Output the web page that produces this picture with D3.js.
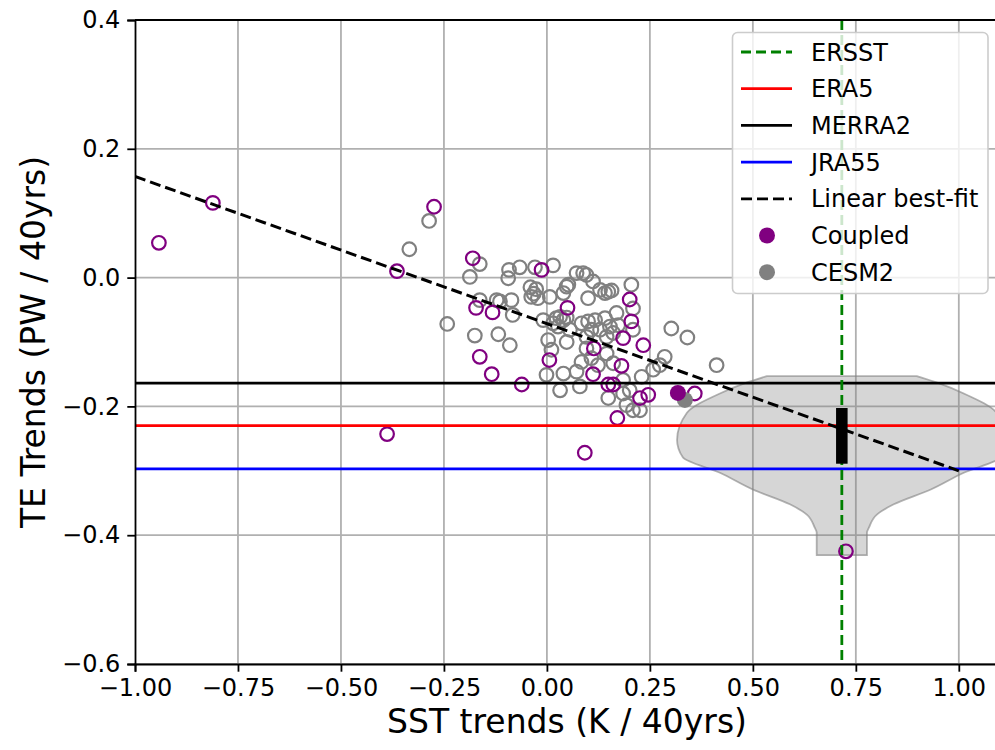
<!DOCTYPE html>
<meta charset="utf-8">
<script src="https://cdn.jsdelivr.net/npm/d3@7"></script>
<style>
body { margin: 0; background: #fff; }
svg text { font-family: "DejaVu Sans", sans-serif; fill: #000; }
</style>
<body>
<script>

// ---- data ----
var xTicks = [-1.00, -0.75, -0.50, -0.25, 0.00, 0.25, 0.50, 0.75, 1.00]
var yTicks = [-0.6, -0.4, -0.2, 0.0, 0.2, 0.4]

var ersstSST = 0.716
var era5TE = -0.230
var merra2TE = -0.164
var jra55TE = -0.297

var fitSST = [-1.0, 1.0]
var fitTE = [0.157, -0.300]

var coupledSST = [-0.942, -0.811, -0.364, -0.274, -0.388, 0.092, 0.726, -0.180, -0.013, -0.172,
                  -0.132, 0.050, 0.201, 0.205, 0.185, 0.234, 0.114, -0.163, 0.006, 0.181,
                  -0.134, 0.112, -0.061, 0.149, 0.161, 0.226, 0.246, 0.359, 0.171]
var coupledTE = [0.054, 0.116, 0.010, 0.110, -0.243, -0.272, -0.425, 0.030, 0.012, -0.047,
                 -0.054, -0.047, -0.034, -0.068, -0.094, -0.105, -0.110, -0.123, -0.128, -0.137,
                 -0.150, -0.150, -0.166, -0.166, -0.166, -0.187, -0.182, -0.180, -0.218]
var coupledMean = [0.318, -0.179]

var cesmSST = [-0.286, -0.334, -0.242, -0.163, -0.187, -0.092, -0.066, -0.094, -0.029, 0.015,
               0.048, -0.040, -0.032, -0.022, -0.038, -0.026, 0.007, -0.163, -0.122, -0.086,
               -0.083, -0.175, -0.118, -0.009, 0.015, 0.032, 0.072, 0.088, 0.096, 0.112,
               0.052, 0.129, 0.149, 0.157, 0.141, 0.205, 0.209, 0.100, 0.040, -0.114,
               -0.090, 0.023, 0.040, 0.048, 0.027, 0.056, 0.003, 0.011, 0.048, 0.084,
               0.100, 0.117, 0.108, 0.096, 0.129, 0.145, 0.153, 0.173, 0.161, 0.141,
               0.169, 0.209, 0.096, 0.145, 0.084, 0.108, 0.124, 0.161, -0.001, 0.040,
               0.072, 0.032, 0.080, 0.185, 0.201, 0.185, 0.149, 0.193, 0.209, 0.226,
               0.230, 0.258, 0.286, 0.274, 0.302, 0.341, 0.412]
var cesmTE = [0.088, 0.044, -0.072, 0.021, 0.001, 0.012, 0.016, -0.001, 0.016, 0.019,
              -0.014, -0.015, -0.025, -0.032, -0.030, -0.018, -0.030, -0.035, -0.035, -0.035,
              -0.058, -0.090, -0.088, -0.066, -0.071, -0.061, 0.007, 0.007, 0.004, -0.006,
              -0.011, -0.019, -0.022, -0.020, -0.024, -0.011, -0.048, -0.032, -0.024, -0.037,
              -0.105, -0.063, -0.066, -0.062, -0.076, -0.081, -0.097, -0.112, -0.100, -0.071,
              -0.068, -0.066, -0.081, -0.092, -0.081, -0.092, -0.076, -0.074, -0.086, -0.063,
              -0.055, -0.081, -0.110, -0.118, -0.131, -0.125, -0.136, -0.133, -0.151, -0.149,
              -0.146, -0.175, -0.169, -0.159, -0.175, -0.180, -0.187, -0.198, -0.206, -0.206,
              -0.154, -0.143, -0.123, -0.136, -0.079, -0.093, -0.136]
var cesmMean = [0.335, -0.190]

// violin profile: TE levels and half widths (in SST units), plus the inner box
var violinTE = [-0.153, -0.164, -0.180, -0.210, -0.252, -0.279, -0.303, -0.329, -0.352, -0.368, -0.388, -0.396, -0.431]
var violinHalf = [0.182, 0.235, 0.296, 0.376, 0.400, 0.386, 0.296, 0.216, 0.126, 0.085, 0.066, 0.061, 0.061]
var violinBox = [-0.289, -0.2025]

var legendNames = ["ERSST", "ERA5", "MERRA2", "JRA55", "Linear best-fit", "Coupled", "CESM2"]

// ---- layout ----
var W = 995, H = 750
var mLeft = 135, mTop = 20, mBottom = 664, mRight = 1000

var x = d3.scaleLinear().domain([-1.0, 1.1]).range([mLeft, mRight])
var y = d3.scaleLinear().domain([-0.6, 0.4]).range([mBottom, mTop])

var svg = d3.select("body").append("svg")
            .attr("width", W)
            .attr("height", H)
            .style("display", "block")

svg.append("rect").attr("width", W).attr("height", H).attr("fill", "#fff")

svg.append("defs").append("clipPath").attr("id", "plotclip")
   .append("rect").attr("x", mLeft).attr("y", mTop).attr("width", mRight - mLeft).attr("height", mBottom - mTop)

var plot = svg.append("g").attr("clip-path", "url(#plotclip)")

// grid
plot.selectAll(".gx").data(xTicks).enter().append("line")
    .attr("x1", d => x(d)).attr("x2", d => x(d))
    .attr("y1", mTop).attr("y2", mBottom)
    .style("stroke", "#b0b0b0").style("stroke-width", 1.8)
plot.selectAll(".gy").data(yTicks).enter().append("line")
    .attr("y1", d => y(d)).attr("y2", d => y(d))
    .attr("x1", mLeft).attr("x2", mRight)
    .style("stroke", "#b0b0b0").style("stroke-width", 1.8)

// violin
var violin = d3.area()
    .y(d => y(d[0]))
    .x0(d => x(ersstSST - d[1]))
    .x1(d => x(ersstSST + d[1]))
    .curve(d3.curveMonotoneY)
plot.append("path")
    .attr("d", violin(d3.zip(violinTE, violinHalf)))
    .style("fill", "#808080").style("fill-opacity", 0.32)
    .style("stroke", "#808080").style("stroke-opacity", 0.6).style("stroke-width", 1.8)

// scatter
plot.selectAll(".cesm").data(d3.zip(cesmSST, cesmTE)).enter().append("circle")
    .attr("cx", d => x(d[0])).attr("cy", d => y(d[1])).attr("r", 6.8)
    .style("fill", "none").style("stroke", "#808080").style("stroke-width", 2.2)
plot.selectAll(".coupled").data(d3.zip(coupledSST, coupledTE)).enter().append("circle")
    .attr("cx", d => x(d[0])).attr("cy", d => y(d[1])).attr("r", 6.8)
    .style("fill", "none").style("stroke", "#800080").style("stroke-width", 2.2)
plot.append("circle").attr("cx", x(cesmMean[0])).attr("cy", y(cesmMean[1])).attr("r", 8)
    .style("fill", "#808080")
plot.append("circle").attr("cx", x(coupledMean[0])).attr("cy", y(coupledMean[1])).attr("r", 8)
    .style("fill", "#800080")

// reference lines
var refs = [[merra2TE, "#000000"], [era5TE, "#ff0000"], [jra55TE, "#0000ff"]]
plot.selectAll(".ref").data(refs).enter().append("line")
    .attr("x1", mLeft).attr("x2", mRight)
    .attr("y1", d => y(d[0])).attr("y2", d => y(d[0]))
    .style("stroke", d => d[1]).style("stroke-width", 2.8)

plot.append("line")
    .attr("x1", x(ersstSST)).attr("x2", x(ersstSST))
    .attr("y1", mTop).attr("y2", mBottom)
    .style("stroke", "#008000").style("stroke-width", 2.8)
    .style("stroke-dasharray", "10,5")

// inner box of violin
plot.append("rect")
    .attr("x", x(ersstSST - 0.014)).attr("width", x(ersstSST + 0.014) - x(ersstSST - 0.014))
    .attr("y", y(violinBox[1])).attr("height", y(violinBox[0]) - y(violinBox[1]))
    .style("fill", "#000")

// best fit
plot.append("line")
    .attr("x1", x(fitSST[0])).attr("y1", y(fitTE[0]))
    .attr("x2", x(fitSST[1])).attr("y2", y(fitTE[1]))
    .style("stroke", "#000").style("stroke-width", 3)
    .style("stroke-dasharray", "11,5")

// axes
var fmtX = d => d3.format(".2f")(d).replace("-", "\u2212")
var fmtY = d => d3.format(".1f")(d).replace("-", "\u2212")

var xAxis = svg.append("g").attr("transform", "translate(0," + mBottom + ")")
    .call(d3.axisBottom(x).tickValues(xTicks).tickFormat(fmtX).tickSizeOuter(0).tickSize(7.7).tickPadding(7))
var yAxis = svg.append("g").attr("transform", "translate(" + mLeft + ",0)")
    .call(d3.axisLeft(y).tickValues(yTicks).tickFormat(fmtY).tickSizeOuter(0).tickSize(7.7).tickPadding(7))

;[xAxis, yAxis].forEach(function(a) {
  a.select(".domain").style("stroke", "#000").style("stroke-width", 1.8)
  a.selectAll(".tick line").style("stroke", "#000").style("stroke-width", 1.8)
  a.selectAll(".tick text").style("font-size", "24px").style("font-family", "DejaVu Sans").attr("fill", "#000")
})
// top spine
svg.append("line").attr("x1", mLeft).attr("x2", mRight).attr("y1", mTop).attr("y2", mTop)
   .style("stroke", "#000").style("stroke-width", 1.8)

svg.append("text")
   .attr("transform", "translate(" + ((mLeft + 995) / 2 + 2) + "," + 733 + ")")
   .style("text-anchor", "middle").style("font-size", "33px")
   .text("SST trends (K / 40yrs)")
svg.append("text")
   .attr("transform", "translate(" + 45 + "," + ((mTop + mBottom) / 2) + ") rotate(-90)")
   .style("text-anchor", "middle").style("font-size", "33px")
   .text("TE Trends (PW / 40yrs)")

// legend
var lg = svg.append("g")
lg.append("rect").attr("x", 732.5).attr("y", 32.5).attr("width", 255.5).attr("height", 261)
  .attr("rx", 5).style("fill", "#fff").style("fill-opacity", 0.8)
  .style("stroke", "#cccccc").style("stroke-width", 1.6)

var legendStyle = [
  { type: "line", color: "#008000", dash: "10,5" },
  { type: "line", color: "#ff0000", dash: null },
  { type: "line", color: "#000000", dash: null },
  { type: "line", color: "#0000ff", dash: null },
  { type: "line", color: "#000000", dash: "11,5" },
  { type: "dot", color: "#800080" },
  { type: "dot", color: "#808080" }
]
legendNames.forEach(function(name, i) {
  var cy = 52 + i * 36.7
  var s = legendStyle[i]
  if (s.type === "line") {
    lg.append("line").attr("x1", 741).attr("x2", 792).attr("y1", cy).attr("y2", cy)
      .style("stroke", s.color).style("stroke-width", 2.8)
      .style("stroke-dasharray", s.dash)
  } else {
    lg.append("circle").attr("cx", 767).attr("cy", cy).attr("r", 8).style("fill", s.color)
  }
  lg.append("text").attr("x", 811).attr("y", cy + 8.5)
    .style("font-size", "24px").text(name)
})

</script>
</body>
